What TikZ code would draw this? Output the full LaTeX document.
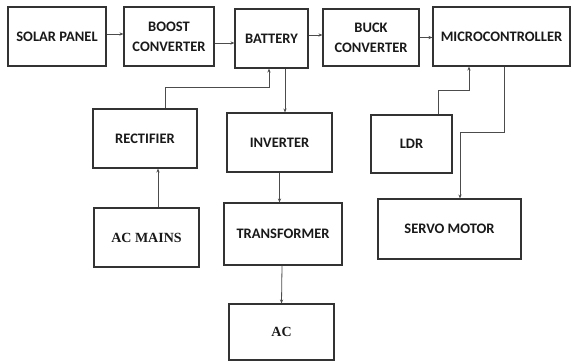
\documentclass[tikz,border=0pt]{standalone}
\usepackage{fontspec}
\setmainfont{Carlito}
\newfontfamily\tnrfont{Liberation Serif}
\usetikzlibrary{arrows.meta}
\begin{document}
\begin{tikzpicture}[x=1pt,y=-1pt,
  blk/.style={draw=black!80, line width=1.1pt, inner sep=0pt, align=center,
    font=\fontsize{14.5}{20}\selectfont\bfseries, text=black!90},
  serifblk/.style={blk, font=\fontsize{14}{20}\selectfont\tnrfont\bfseries},
  arr/.style={draw=black!70, line width=0.8pt, -{Stealth[length=4pt,width=3.2pt]}}
]
\useasboundingbox (0,0) rectangle (572,362);
\node[blk, minimum width=98pt, minimum height=59pt] (solar) at (57,36.5) {SOLAR PANEL};
\node[blk, minimum width=90pt, minimum height=59pt] (boost) at (169,36.5) {BOOST\\CONVERTER};
\node[blk, minimum width=73pt, minimum height=59pt] (battery) at (271.5,38.5) {BATTERY};
\node[blk, minimum width=96pt, minimum height=57pt] (buck) at (371,37.5) {BUCK\\CONVERTER};
\node[blk, minimum width=137pt, minimum height=59pt] (micro) at (501.5,36.5) {MICROCONTROLLER};
\node[blk, minimum width=104pt, minimum height=59pt] (rectifier) at (145,138.5) {RECTIFIER};
\node[blk, minimum width=105pt, minimum height=59pt] (inverter) at (279.5,142.5) {INVERTER};
\node[blk, minimum width=81pt, minimum height=58pt] (ldr) at (411.5,144) {LDR};
\node[serifblk, minimum width=105pt, minimum height=59pt] (acmains) at (146.5,237.5) {AC MAINS};
\node[blk, minimum width=118pt, minimum height=62pt] (transformer) at (283,234) {TRANSFORMER};
\node[blk, minimum width=143pt, minimum height=60pt] (servo) at (449.5,229) {SERVO MOTOR};
\node[serifblk, minimum width=105pt, minimum height=56pt] (ac) at (281.5,332) {AC};

\draw[arr] ([yshift=2.5pt]solar.east) -- ([yshift=2.5pt]solar.east -| boost.west);
\draw[arr] ([yshift=-6.5pt]boost.east) -- ([yshift=-6.5pt]boost.east -| battery.west);
\draw[arr] ([yshift=3.5pt]battery.east) -- ([yshift=3.5pt]battery.east -| buck.west);
\draw[arr] (buck.east) -- (buck.east -| micro.west);
\draw[arr] ([xshift=13.5pt]battery.south) -- ([xshift=13.5pt]battery.south |- inverter.north);
\draw[arr] ([xshift=20pt]rectifier.north) -- ++(0,-21) -| ([xshift=-2.5pt]battery.south);
\draw[arr] ([xshift=11.5pt]acmains.north) -- ([xshift=11.5pt]acmains.north |- rectifier.south);
\draw[arr] (inverter.south) -- (inverter.south |- transformer.north);
\draw[arr] ([xshift=-1pt]transformer.south) -- (ac.north);
\draw[arr] ([xshift=26.5pt]ldr.north) -- ++(0,-24) -| ([xshift=-32.5pt]micro.south);
\draw[arr] ([xshift=2.5pt]micro.south) -- ++(0,66) -| ([xshift=10.5pt]servo.north);
\end{tikzpicture}
\end{document}
